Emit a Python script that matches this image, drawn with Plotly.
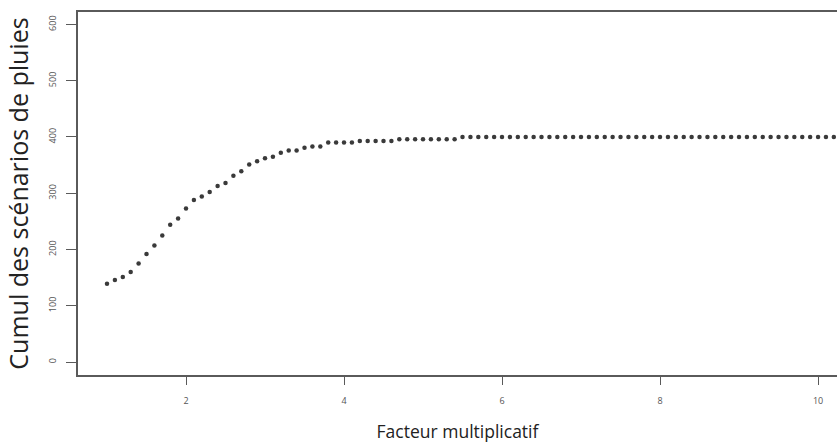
import plotly.graph_objects as go

facteur = [1.0, 1.1, 1.2, 1.3, 1.4, 1.5, 1.6, 1.7, 1.8, 1.9,
           2.0, 2.1, 2.2, 2.3, 2.4, 2.5, 2.6, 2.7, 2.8, 2.9,
           3.0, 3.1, 3.2, 3.3, 3.4, 3.5, 3.6, 3.7, 3.8, 3.9,
           4.0, 4.1, 4.2, 4.3, 4.4, 4.5, 4.6, 4.7, 4.8, 4.9,
           5.0, 5.1, 5.2, 5.3, 5.4, 5.5, 5.6, 5.7, 5.8, 5.9,
           6.0, 6.1, 6.2, 6.3, 6.4, 6.5, 6.6, 6.7, 6.8, 6.9,
           7.0, 7.1, 7.2, 7.3, 7.4, 7.5, 7.6, 7.7, 7.8, 7.9,
           8.0, 8.1, 8.2, 8.3, 8.4, 8.5, 8.6, 8.7, 8.8, 8.9,
           9.0, 9.1, 9.2, 9.3, 9.4, 9.5, 9.6, 9.7, 9.8, 9.9,
           10.0, 10.1, 10.2]

cumul = [139, 146, 151, 160, 175, 192, 207, 225, 244, 255,
         273, 288, 294, 302, 313, 318, 331, 339, 351, 357,
         362, 365, 372, 376, 376, 381, 383, 383, 390, 390,
         390, 390, 393, 393, 393, 393, 393, 396, 396, 396,
         396, 396, 396, 396, 396, 400, 400, 400, 400, 400,
         400, 400, 400, 400, 400, 400, 400, 400, 400, 400,
         400, 400, 400, 400, 400, 400, 400, 400, 400, 400,
         400, 400, 400, 400, 400, 400, 400, 400, 400, 400,
         400, 400, 400, 400, 400, 400, 400, 400, 400, 400,
         400, 400, 400]

x_ticks = [2, 4, 6, 8, 10]
y_ticks = [0, 100, 200, 300, 400, 500, 600]

x_title = "Facteur multiplicatif"
y_title = "Cumul des scénarios de pluies"

fig = go.Figure()
fig.add_trace(go.Scatter(
    x=facteur, y=cumul, mode="markers",
    marker=dict(size=4.5, color="#3a3a3a", line=dict(width=0)),
    showlegend=False,
))

axis_color = "#5a5a5a"
fig.update_layout(
    width=837, height=445,
    margin=dict(l=78, r=0, t=12, b=70),
    paper_bgcolor="white", plot_bgcolor="white",
    font=dict(family="Open Sans", color="#222"),
    xaxis=dict(
        range=[0.633, 10.24], tickvals=x_ticks, ticktext=[str(v) for v in x_ticks],
        showgrid=False, zeroline=False,
        showline=True, linecolor=axis_color, linewidth=1.6, mirror=True,
        ticks="outside", ticklen=8, tickwidth=1.2, tickcolor=axis_color,
        tickfont=dict(size=9, color="#555"), ticklabelstandoff=8,
        title=dict(text=x_title, font=dict(size=17.5, color="#222"), standoff=20),
    ),
    yaxis=dict(
        range=[-23.1, 622.2], tickvals=y_ticks, ticktext=[str(v) for v in y_ticks],
        showgrid=False, zeroline=False,
        showline=True, linecolor=axis_color, linewidth=1.6,
        ticks="outside", ticklen=10, tickwidth=1.2, tickcolor=axis_color,
        tickangle=-90, tickfont=dict(size=9, color="#555"), ticklabelstandoff=7,
        title=dict(text=y_title, font=dict(size=25, color="#222"), standoff=10),
    ),
)

fig.write_html(
    "out.html",
    config={"displayModeBar": False},
    post_script="document.body.style.margin='0';"
                "document.body.style.overflow='hidden';"
                "document.documentElement.style.overflow='hidden';",
)
